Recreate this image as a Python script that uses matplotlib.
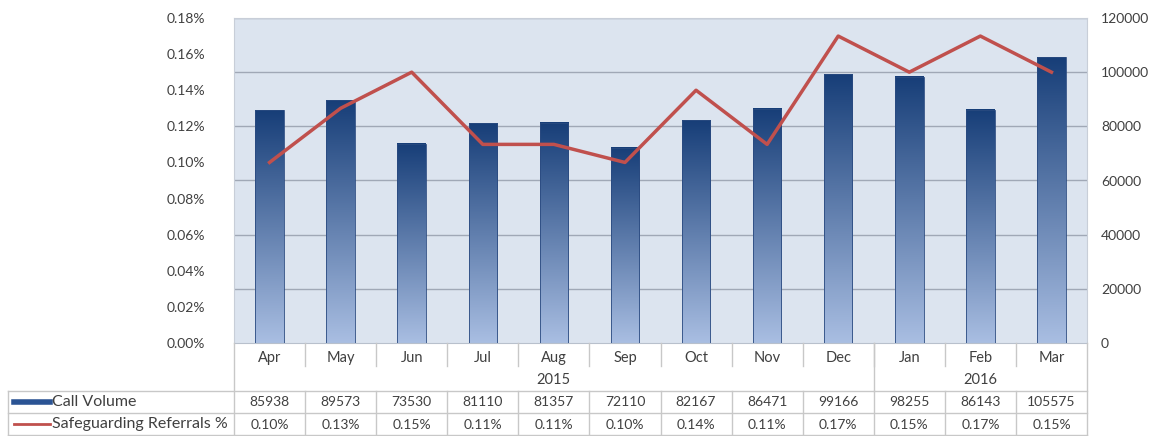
import numpy as np
import matplotlib.pyplot as plt
from matplotlib.colors import LinearSegmentedColormap
from matplotlib.lines import Line2D

months = ["Apr", "May", "Jun", "Jul", "Aug", "Sep", "Oct", "Nov", "Dec", "Jan", "Feb", "Mar"]
years = ["2015", "2016"]
year_counts = [9, 3]
call_volume = [85938, 89573, 73530, 81110, 81357, 72110, 82167, 86471, 99166, 98255, 86143, 105575]
referral_pct = [0.10, 0.13, 0.15, 0.11, 0.11, 0.10, 0.14, 0.11, 0.17, 0.15, 0.17, 0.15]

plt.rcParams["font.family"] = ["Lato", "DejaVu Sans"]
TXT = "#404040"
GRID = "#A0A8B6"
BAR_TOP = "#173E78"
BAR_BOT = "#A9BEE2"
LINE = "#C0504D"

fig = plt.figure(figsize=(11.64, 4.36), dpi=100)
W, H = 1164, 436
x0, x1, y_top, y_bot = 234, 1087, 18, 343
ax = fig.add_axes([x0 / W, 1 - y_bot / H, (x1 - x0) / W, (y_bot - y_top) / H])
ax2 = ax.twinx()
ax.set_zorder(ax2.get_zorder() + 1)
ax.patch.set_visible(False)
ax2.patch.set_visible(True)
ax2.set_facecolor("#DCE4EF")

n = len(months)
x = np.arange(n)
ax.set_xlim(-0.5, n - 0.5)
ax.set_ylim(0, 0.18)

# gridlines follow the right axis
for v in range(20000, 120001, 20000):
    ax2.axhline(v, color=GRID, lw=1, zorder=0)

# gradient bars
cmap = LinearSegmentedColormap.from_list("bar", [BAR_BOT, BAR_TOP])
grad = np.linspace(0, 1, 256).reshape(-1, 1)
bw = 0.4
for xi, v in zip(x, call_volume):
    ax2.imshow(grad, extent=[xi - bw / 2, xi + bw / 2, 0, v], origin="lower",
               aspect="auto", cmap=cmap, zorder=2)
    ax2.add_patch(plt.Rectangle((xi - bw / 2, 0), bw, v, fill=False,
                                edgecolor="#2A4A80", lw=0.6, zorder=3))
ax2.set_xlim(-0.5, n - 0.5)
ax2.set_ylim(0, 120000)

ax.plot(x, referral_pct, color=LINE, lw=2.5, zorder=5)

ax.set_yticks(np.arange(0, 0.181, 0.02))
ax.set_yticklabels([f"{v:.2f}%" for v in np.arange(0, 0.181, 0.02)])
ax2.set_yticks(range(0, 120001, 20000))
ax2.set_yticklabels([str(v) for v in range(0, 120001, 20000)])
for a in (ax, ax2):
    a.tick_params(length=0, labelsize=10, colors=TXT)
    a.set_xticks([])
    for s in a.spines.values():
        s.set_visible(False)
ax.tick_params(axis="y", pad=21)
ax2.tick_params(axis="y", pad=10)
for side in ("left", "right", "top"):
    ax2.spines[side].set_visible(True)
    ax2.spines[side].set_color("#C8CED8")
ax2.spines["bottom"].set_visible(True)
ax2.spines["bottom"].set_color("#B8C0CC")

# data table below the plot, in figure pixel coordinates
def px(xp, yp):
    return xp / W, 1 - yp / H

def hline(xa, xb, yp, c="#C8C8C8"):
    fig.add_artist(Line2D([xa / W, xb / W], [1 - yp / H, 1 - yp / H], color=c, lw=1))

def vline(xp, ya, yb, c="#C8C8C8"):
    fig.add_artist(Line2D([xp / W, xp / W], [1 - ya / H, 1 - yb / H], color=c, lw=1))

cw = (x1 - x0) / n
tab_left = 8
r_month, r_year, r_cv, r_pct, r_end = 343, 370, 391, 413, 436

vline(x0, r_month, r_end)
vline(x1, r_month, r_end)
for i in range(1, n):
    vline(x0 + i * cw, r_month, r_month + 23)
    vline(x0 + i * cw, r_cv, r_end)
vline(x0 + year_counts[0] * cw, r_month, r_cv)
vline(tab_left, r_cv, r_end)
hline(tab_left, x1, r_cv)
hline(tab_left, x1, r_pct)
hline(tab_left, x1, r_end - 1)

for i, m in enumerate(months):
    fig.text(*px(x0 + (i + 0.5) * cw, (r_month + r_year) / 2 + 1), m,
             ha="center", va="center", fontsize=10.5, color=TXT)
    fig.text(*px(x0 + (i + 0.5) * cw, (r_cv + r_pct) / 2), str(call_volume[i]),
             ha="center", va="center", fontsize=10, color=TXT)
    fig.text(*px(x0 + (i + 0.5) * cw, (r_pct + r_end) / 2), f"{referral_pct[i]:.2f}%",
             ha="center", va="center", fontsize=10, color=TXT)

start = 0
for yr, cnt in zip(years, year_counts):
    fig.text(*px(x0 + (start + cnt / 2) * cw, (r_year + r_cv) / 2), yr,
             ha="center", va="center", fontsize=10.5, color=TXT)
    start += cnt

fig.add_artist(Line2D([14 / W, 50 / W], [1 - 402 / H] * 2, color="#2B5494", lw=4))
fig.add_artist(Line2D([14 / W, 50 / W], [1 - 424 / H] * 2, color=LINE, lw=2))
fig.text(*px(52, 402), "Call Volume", ha="left", va="center", fontsize=11.5, color=TXT)
fig.text(*px(52, 424), "Safeguarding Referrals %", ha="left", va="center", fontsize=11.5, color=TXT)

fig.savefig("out.png", dpi=100)
